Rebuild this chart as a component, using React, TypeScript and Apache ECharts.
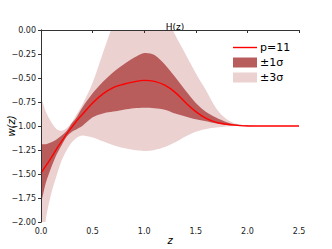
import React, { useEffect, useRef } from "react";
import * as echarts from "echarts";

const zValues = [0, 0.05, 0.1, 0.15, 0.2, 0.25, 0.3, 0.35, 0.4, 0.5, 0.6, 0.7, 0.8, 0.9, 1.0, 1.1, 1.2, 1.3, 1.4, 1.5, 1.6, 1.7, 1.8, 1.9, 2.0, 2.1, 2.2, 2.3, 2.4, 2.5];
const meanW = [-1.49, -1.41, -1.33, -1.24, -1.16, -1.08, -1.01, -0.94, -0.88, -0.76, -0.665, -0.6, -0.565, -0.54, -0.525, -0.535, -0.575, -0.65, -0.755, -0.85, -0.92, -0.962, -0.982, -0.993, -1, -1, -1, -1, -1, -1];
const upper1 = [-1.2, -1.19, -1.17, -1.14, -1.1, -1.05, -0.97, -0.9, -0.81, -0.66, -0.54, -0.44, -0.36, -0.29, -0.24, -0.26, -0.36, -0.49, -0.63, -0.76, -0.855, -0.915, -0.96, -0.985, -0.995, -1, -1, -1, -1, -1];
const lower1 = [-1.78, -1.58, -1.43, -1.3, -1.2, -1.11, -1.06, -1.03, -1.0, -0.91, -0.87, -0.85, -0.83, -0.815, -0.81, -0.815, -0.83, -0.87, -0.9, -0.93, -0.95, -0.975, -0.99, -0.997, -1, -1, -1, -1, -1, -1];
const upper3 = [-0.72, -0.86, -0.96, -1.03, -1.05, -1.02, -0.96, -0.87, -0.78, -0.55, -0.24, 0.06, 0.28, 0.4, 0.42, 0.35, 0.18, -0.05, -0.25, -0.45, -0.63, -0.82, -0.93, -0.98, -0.995, -1, -1, -1, -1, -1];
const lower3 = [-2.4, -1.95, -1.7, -1.52, -1.36, -1.25, -1.17, -1.12, -1.1, -1.12, -1.16, -1.2, -1.23, -1.25, -1.26, -1.25, -1.22, -1.17, -1.11, -1.06, -1.03, -1.015, -1.005, -1, -1, -1, -1, -1, -1, -1];

const LIGHT = "#ecd1d1";
const DARK = "#b85c5c";
const RED = "#ff0000";
const FONT = "DejaVu Sans";

export default function App() {
  const ref = useRef<HTMLDivElement>(null);
  useEffect(() => {
    if (!ref.current) return;
    const chart = echarts.init(ref.current, null, { renderer: "svg" });
    const pairs = (arr: number[]) => zValues.map((z, i) => [z, arr[i]]);
    const band = (hi: number[], lo: number[], color: string) => (params: any, api: any) => {
      const pts: number[][] = [];
      zValues.forEach((z, i) => pts.push(api.coord([z, hi[i]])));
      for (let i = zValues.length - 1; i >= 0; i--) pts.push(api.coord([zValues[i], lo[i]]));
      const cs = params.coordSys;
      return {
        type: "polygon",
        shape: { points: pts, smooth: 0.3 },
        style: { fill: color, stroke: "none" },
        clipPath: { type: "rect", shape: { x: cs.x, y: cs.y, width: cs.width, height: cs.height } },
      };
    };
    const axisLine = { show: true, lineStyle: { color: "#333", width: 1 } };
    chart.setOption({
      animation: false,
      title: {
        text: "H(z)",
        left: 170,
        top: 17,
        textAlign: "center",
        textStyle: { fontFamily: FONT, fontSize: 9, fontWeight: "normal", color: "#000" },
      },
      legend: {
        orient: "vertical",
        left: 228,
        top: 36,
        itemWidth: 24,
        itemHeight: 10,
        itemGap: 2,
        textStyle: { fontFamily: FONT, fontSize: 11, color: "#000", lineHeight: 13, padding: [0, 0, 0, -2] },
        data: [
          { name: "p=11", icon: "path://M0,4.3L24,4.3L24,5.7L0,5.7Z" },
          { name: "±1σ", icon: "rect" },
          { name: "±3σ", icon: "rect" },
        ],
      },
      grid: { left: 41, top: 30, right: 33, bottom: 27, containLabel: false, outerBoundsMode: "none" },
      xAxis: [
        {
          type: "value",
          min: 0,
          max: 2.5,
          interval: 0.5,
          z: 10,
          name: "z",
          nameLocation: "middle",
          nameGap: 13,
          nameMoveOverlap: false,
          nameTextStyle: { fontFamily: FONT, fontSize: 10, fontStyle: "italic", color: "#000" },
          axisLine,
          axisTick: { show: true, length: 3, lineStyle: { color: "#333" } },
          axisLabel: { fontFamily: FONT, fontSize: 8, color: "#222", margin: 5, formatter: (v: number) => v.toFixed(1) },
          splitLine: { show: false },
        },
        {
          type: "value",
          position: "top",
          min: 0,
          max: 2.5,
          z: 10,
          axisLine,
          axisTick: { show: false },
          axisLabel: { show: false },
          splitLine: { show: false },
        },
      ],
      yAxis: [
        {
          type: "value",
          min: -2,
          max: 0,
          interval: 0.25,
          z: 10,
          name: "w(z)",
          nameLocation: "middle",
          nameRotate: 90,
          nameGap: 25,
          nameMoveOverlap: false,
          nameTextStyle: { fontFamily: FONT, fontSize: 10, fontStyle: "italic", color: "#000" },
          axisLine,
          axisTick: { show: true, length: 3, lineStyle: { color: "#333" } },
          axisLabel: { fontFamily: FONT, fontSize: 8, color: "#222", margin: 5, formatter: (v: number) => (v < 0 ? "\u2212" + Math.abs(v).toFixed(2) : v.toFixed(2)) },
          splitLine: { show: false },
        },
        {
          type: "value",
          position: "right",
          min: -2,
          max: 0,
          z: 10,
          axisLine,
          axisTick: { show: false },
          axisLabel: { show: false },
          splitLine: { show: false },
        },
      ],
      series: [
        {
          name: "±3σ",
          type: "custom",
          data: [[0, 0]],
          itemStyle: { color: LIGHT },
          renderItem: band(upper3, lower3, LIGHT),
          silent: true,
        },
        {
          name: "±1σ",
          type: "custom",
          data: [[0, 0]],
          itemStyle: { color: DARK },
          renderItem: band(upper1, lower1, DARK),
          silent: true,
        },
        {
          name: "p=11",
          type: "line",
          data: pairs(meanW),
          smooth: 0.4,
          symbol: "none",
          showSymbol: false,
          itemStyle: { color: RED },
          lineStyle: { color: RED, width: 1.4 },
        },
      ],
    });
    return () => chart.dispose();
  }, []);
  return <div ref={ref} style={{ position: "fixed", left: 0, top: 0, width: 332, height: 249, background: "#fff" }} />;
}
